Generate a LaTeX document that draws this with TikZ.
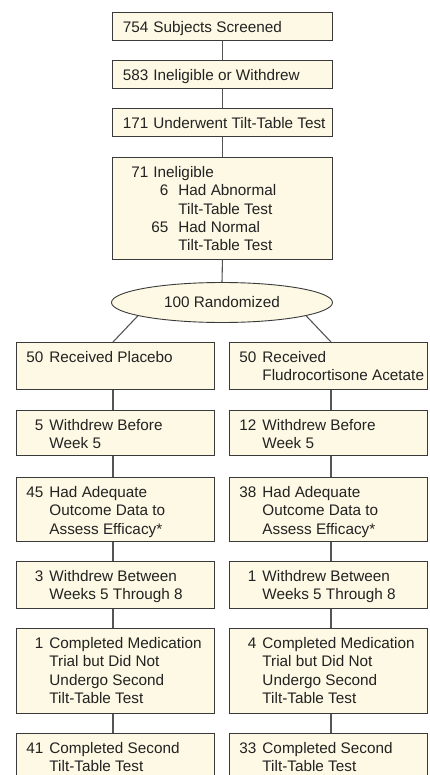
\documentclass[tikz,border=0pt]{standalone}
\usepackage{fontspec}
\setmainfont{Liberation Sans}
\usetikzlibrary{shapes.geometric}
\definecolor{boxfill}{HTML}{FDF9E4}
\definecolor{boxline}{HTML}{3A3A3A}
\definecolor{connline}{HTML}{555555}
\definecolor{txt}{HTML}{222222}
\tikzset{
  box/.style={draw=boxline, fill=boxfill, line width=0.9pt, inner sep=0pt, text=txt},
  ell/.style={ellipse, draw=boxline, fill=boxfill, line width=0.9pt, inner sep=0pt,
    minimum width=221pt, minimum height=40pt, text=txt},
  conn/.style={draw=connline, line width=1.1pt}
}
% one text line: number right edge, text start (box relative), number, text
\newcommand{\tl}[4]{\makebox[#1pt][r]{#3}\hspace*{\dimexpr #2pt-#1pt\relax}#4\strut\par}
\newcommand{\bx}[6]{%
  \node[box, anchor=north west] (#1) at (#2,#3)
   {\parbox[c][#5pt][t]{#4pt}{\fontsize{15.3}{18.3}\selectfont\vspace*{7.2pt}#6}};}
\begin{document}
\begin{tikzpicture}[x=1pt, y=-1pt]
\clip (0,0) rectangle (430,775);
\fill[white] (0,0) rectangle (430,775);
\coordinate (xl) at (113,0);
\coordinate (xr) at (331,0);
% top column
\bx{b1}{112}{12}{220}{28}{\tl{36}{41}{754}{Subjects Screened}}
\bx{b2}{112}{60}{220}{28}{\tl{36}{41}{583}{Ineligible or Withdrew}}
\bx{b3}{112}{108}{220}{28}{\tl{36}{41}{171}{Underwent Tilt-Table Test}}
\bx{b4}{112}{157}{220}{102}{%
  \tl{36}{41}{71}{Ineligible}%
  \tl{56}{66}{6}{Had Abnormal}%
  \tl{56}{66}{}{Tilt-Table Test}%
  \tl{56}{66}{65}{Had Normal}%
  \tl{56}{66}{}{Tilt-Table Test}}
\node[ell] (rand) at (222,302.5) {\fontsize{15.3}{18.3}\selectfont 100 Randomized};
% left column
\bx{l1}{16}{342}{198}{47}{\tl{27}{33}{50}{Received Placebo}}
\bx{l2}{16}{410}{198}{45}{\tl{27}{33}{5}{Withdrew Before}\tl{27}{33}{}{Week 5}}
\bx{l3}{16}{477}{198}{64}{\tl{27}{33}{45}{Had Adequate}\tl{27}{33}{}{Outcome Data to}\tl{27}{33}{}{Assess Efficacy*}}
\bx{l4}{16}{561}{198}{47}{\tl{27}{33}{3}{Withdrew Between}\tl{27}{33}{}{Weeks 5 Through 8}}
\bx{l5}{16}{628}{198}{85}{\tl{27}{33}{1}{Completed Medication}\tl{27}{33}{}{Trial but Did Not}\tl{27}{33}{}{Undergo Second}\tl{27}{33}{}{Tilt-Table Test}}
\bx{l6}{16}{733}{198}{60}{\tl{27}{33}{41}{Completed Second}\tl{27}{33}{}{Tilt-Table Test}}
% right column
\bx{r1}{229}{342}{198}{47}{\tl{27}{33}{50}{Received}\tl{27}{33}{}{Fludrocortisone Acetate}}
\bx{r2}{229}{410}{198}{45}{\tl{27}{33}{12}{Withdrew Before}\tl{27}{33}{}{Week 5}}
\bx{r3}{229}{477}{198}{64}{\tl{27}{33}{38}{Had Adequate}\tl{27}{33}{}{Outcome Data to}\tl{27}{33}{}{Assess Efficacy*}}
\bx{r4}{229}{561}{198}{47}{\tl{27}{33}{1}{Withdrew Between}\tl{27}{33}{}{Weeks 5 Through 8}}
\bx{r5}{229}{628}{198}{85}{\tl{27}{33}{4}{Completed Medication}\tl{27}{33}{}{Trial but Did Not}\tl{27}{33}{}{Undergo Second}\tl{27}{33}{}{Tilt-Table Test}}
\bx{r6}{229}{733}{198}{60}{\tl{27}{33}{33}{Completed Second}\tl{27}{33}{}{Tilt-Table Test}}
% connectors
\draw[conn] (b1.south) -- (b2.north);
\draw[conn] (b2.south) -- (b3.north);
\draw[conn] (b3.south) -- (b4.north);
\draw[conn] (b4.south) -- (rand.north);
\draw[conn] (rand.189) -- (l1.north -| xl);
\draw[conn] (rand.-9) -- (r1.north -| xr);
\foreach \a/\b in {l1/l2,l2/l3,l3/l4,l4/l5,l5/l6}{
  \draw[conn] (\a.south -| xl) -- (\b.north -| xl);}
\foreach \a/\b in {r1/r2,r2/r3,r3/r4,r4/r5,r5/r6}{
  \draw[conn] (\a.south -| xr) -- (\b.north -| xr);}
\end{tikzpicture}
\end{document}
